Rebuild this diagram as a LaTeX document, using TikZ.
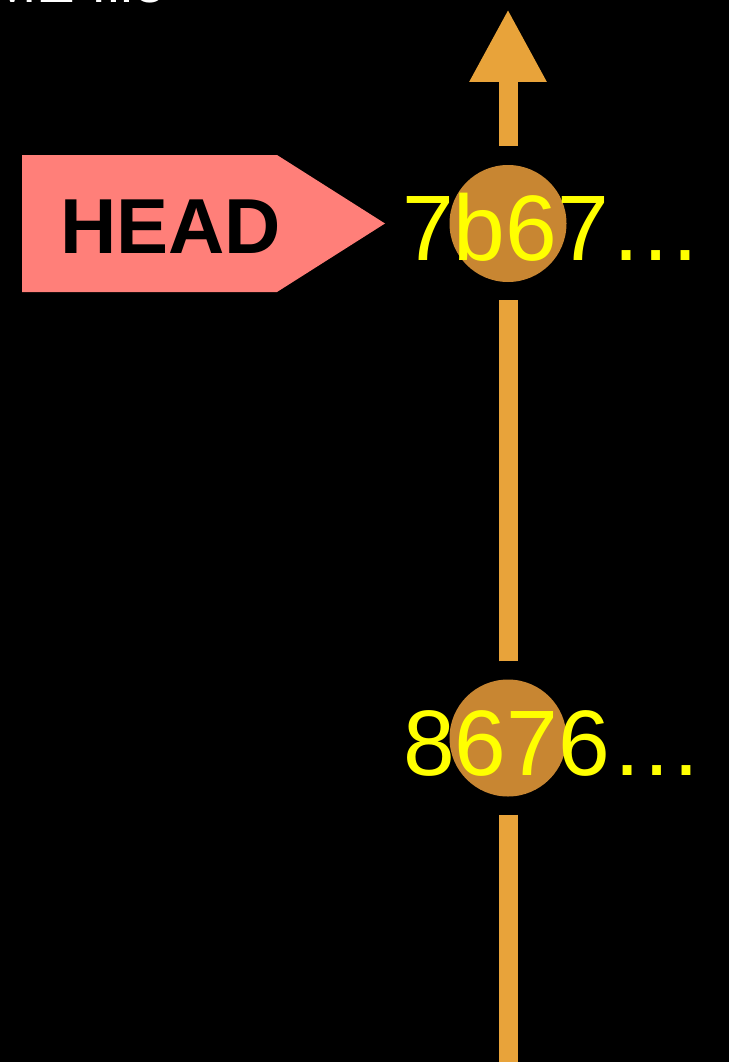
\documentclass[tikz,border=0pt]{standalone}
\usepackage{fontspec}
\setmainfont{Liberation Sans}
\usetikzlibrary{arrows.meta,calc}
\definecolor{branch}{RGB}{232,163,58}
\definecolor{commitfill}{RGB}{200,134,50}
\definecolor{headred}{RGB}{255,127,121}
\definecolor{hashyellow}{RGB}{255,255,0}
\tikzset{
  commit/.style={circle, fill=commitfill, minimum size=117pt, inner sep=0pt},
  branchline/.style={draw=branch, line width=19pt},
  hashlabel/.style={anchor=base west, text=hashyellow, inner sep=0pt, font=\fontsize{93}{96}\selectfont},
  headlabel/.style={anchor=base west, text=black, inner sep=0pt, font=\fontsize{78}{80}\selectfont\bfseries},
}
\begin{document}
\begin{tikzpicture}[x=1pt,y=-1pt]
\useasboundingbox (0,0) rectangle (728,1062);
\fill[black] (-10,-10) rectangle (740,1072);
\begin{scope}
\clip (0,0) rectangle (728,1062);
% cut-off title
\node[anchor=base east, text=white, inner sep=0pt, font=\fontsize{58}{60}\selectfont] (title) at (166,3) {ME file};
% commits
\node[commit] (c1) at (508,223.5) {};
\node[commit] (c2) at (508,738) {};
\coordinate (tip) at (508,9);
\coordinate (bottom) at (508,1070);
% branch lines
\draw[branchline, -{Triangle[width=72pt,length=73pt]}] ($(c1.north)+(0,-19)$) -- (tip);
\draw[branchline] ($(c2.north)+(0,-18)$) -- ($(c1.south)+(0,18)$);
\draw[branchline] ($(c2.south)+(0,18)$) -- (bottom);
% hash labels
\node[hashlabel] (l1) at (402,260) {7b67…};
\node[hashlabel] (l2) at (403,775) {8676…};
% HEAD tag
\fill[headred] (22,155) -- (277,155) -- (385,223.5) -- (277,292) -- (22,292) -- cycle;
\node[headlabel] (head) at (60,253) {HEAD};
\end{scope}
\end{tikzpicture}
\end{document}
